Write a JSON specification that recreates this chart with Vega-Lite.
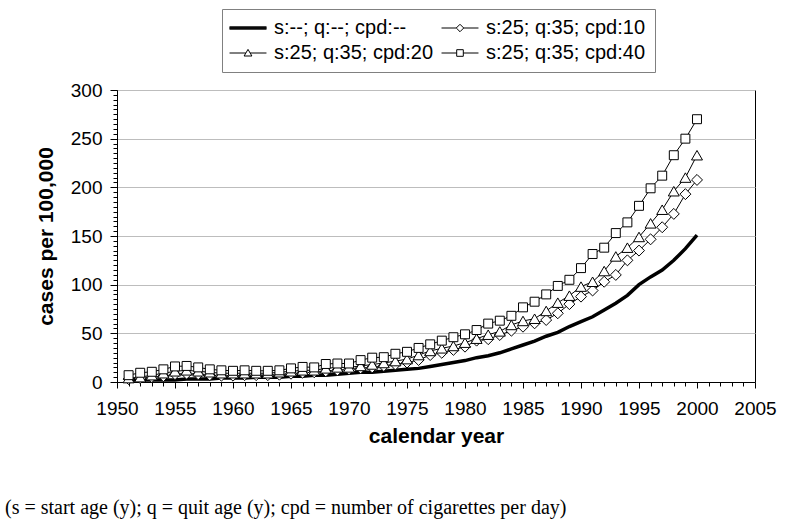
{
  "$schema": "https://vega.github.io/schema/vega-lite/v6.json",
  "width": 638,
  "height": 292,
  "autosize": {"type": "none"},
  "padding": {"left": 117, "top": 90, "right": 45, "bottom": 141},
  "background": "white",
  "config": {
    "font": "Liberation Sans",
    "view": {"stroke": "#000", "strokeWidth": 1},
    "axis": {"domainColor": "#000", "tickColor": "#000", "labelColor": "#000", "titleColor": "#000", "labelFontSize": 19, "titleFontSize": 21, "titleFontWeight": "bold", "labelOverlap": false, "labelFlush": false}
  },
  "title": {
    "text": "(s = start age (y); q = quit age (y); cpd = number of cigarettes per day)",
    "orient": "bottom", "anchor": "start", "frame": "group", "dx": -112, "offset": 52,
    "font": "Liberation Serif", "fontSize": 20, "fontWeight": "normal", "color": "#000"
  },
  "data": {"values": [
    {"year":1951,"series":"base","value":2},{"year":1951,"series":"c10","value":3},{"year":1951,"series":"c20","value":4},{"year":1951,"series":"c40","value":7},
    {"year":1952,"series":"base","value":2},{"year":1952,"series":"c10","value":4},{"year":1952,"series":"c20","value":5},{"year":1952,"series":"c40","value":9.5},
    {"year":1953,"series":"base","value":2},{"year":1953,"series":"c10","value":5},{"year":1953,"series":"c20","value":7},{"year":1953,"series":"c40","value":10.5},
    {"year":1954,"series":"base","value":2},{"year":1954,"series":"c10","value":6},{"year":1954,"series":"c20","value":9},{"year":1954,"series":"c40","value":13},
    {"year":1955,"series":"base","value":2},{"year":1955,"series":"c10","value":8},{"year":1955,"series":"c20","value":11},{"year":1955,"series":"c40","value":16},
    {"year":1956,"series":"base","value":3},{"year":1956,"series":"c10","value":8.5},{"year":1956,"series":"c20","value":12},{"year":1956,"series":"c40","value":16.5},
    {"year":1957,"series":"base","value":3},{"year":1957,"series":"c10","value":8},{"year":1957,"series":"c20","value":11},{"year":1957,"series":"c40","value":15},
    {"year":1958,"series":"base","value":3},{"year":1958,"series":"c10","value":7},{"year":1958,"series":"c20","value":10},{"year":1958,"series":"c40","value":13},
    {"year":1959,"series":"base","value":4},{"year":1959,"series":"c10","value":6.5},{"year":1959,"series":"c20","value":9},{"year":1959,"series":"c40","value":12},
    {"year":1960,"series":"base","value":4},{"year":1960,"series":"c10","value":6.5},{"year":1960,"series":"c20","value":9},{"year":1960,"series":"c40","value":11.5},
    {"year":1961,"series":"base","value":4},{"year":1961,"series":"c10","value":7},{"year":1961,"series":"c20","value":9},{"year":1961,"series":"c40","value":12},
    {"year":1962,"series":"base","value":5},{"year":1962,"series":"c10","value":7},{"year":1962,"series":"c20","value":9},{"year":1962,"series":"c40","value":11.5},
    {"year":1963,"series":"base","value":5},{"year":1963,"series":"c10","value":7},{"year":1963,"series":"c20","value":9},{"year":1963,"series":"c40","value":11.5},
    {"year":1964,"series":"base","value":5},{"year":1964,"series":"c10","value":7.5},{"year":1964,"series":"c20","value":10},{"year":1964,"series":"c40","value":12},
    {"year":1965,"series":"base","value":6},{"year":1965,"series":"c10","value":8.5},{"year":1965,"series":"c20","value":11},{"year":1965,"series":"c40","value":14},
    {"year":1966,"series":"base","value":6},{"year":1966,"series":"c10","value":9.5},{"year":1966,"series":"c20","value":12},{"year":1966,"series":"c40","value":15.5},
    {"year":1967,"series":"base","value":7},{"year":1967,"series":"c10","value":10},{"year":1967,"series":"c20","value":12},{"year":1967,"series":"c40","value":15},
    {"year":1968,"series":"base","value":7},{"year":1968,"series":"c10","value":11},{"year":1968,"series":"c20","value":14},{"year":1968,"series":"c40","value":18.5},
    {"year":1969,"series":"base","value":8},{"year":1969,"series":"c10","value":12},{"year":1969,"series":"c20","value":15},{"year":1969,"series":"c40","value":19},
    {"year":1970,"series":"base","value":9},{"year":1970,"series":"c10","value":13},{"year":1970,"series":"c20","value":15},{"year":1970,"series":"c40","value":19},
    {"year":1971,"series":"base","value":10},{"year":1971,"series":"c10","value":14},{"year":1971,"series":"c20","value":16.5},{"year":1971,"series":"c40","value":22.5},
    {"year":1972,"series":"base","value":10},{"year":1972,"series":"c10","value":15},{"year":1972,"series":"c20","value":18},{"year":1972,"series":"c40","value":25},
    {"year":1973,"series":"base","value":11},{"year":1973,"series":"c10","value":16.5},{"year":1973,"series":"c20","value":19.5},{"year":1973,"series":"c40","value":25.5},
    {"year":1974,"series":"base","value":12},{"year":1974,"series":"c10","value":18},{"year":1974,"series":"c20","value":21.5},{"year":1974,"series":"c40","value":29},
    {"year":1975,"series":"base","value":13},{"year":1975,"series":"c10","value":20},{"year":1975,"series":"c20","value":23.5},{"year":1975,"series":"c40","value":31},
    {"year":1976,"series":"base","value":14},{"year":1976,"series":"c10","value":22.6},{"year":1976,"series":"c20","value":27.7},{"year":1976,"series":"c40","value":35},
    {"year":1977,"series":"base","value":16},{"year":1977,"series":"c10","value":27.7},{"year":1977,"series":"c20","value":31.9},{"year":1977,"series":"c40","value":38.7},
    {"year":1978,"series":"base","value":18},{"year":1978,"series":"c10","value":30},{"year":1978,"series":"c20","value":34.6},{"year":1978,"series":"c40","value":42.5},
    {"year":1979,"series":"base","value":20},{"year":1979,"series":"c10","value":33},{"year":1979,"series":"c20","value":37},{"year":1979,"series":"c40","value":46},
    {"year":1980,"series":"base","value":22},{"year":1980,"series":"c10","value":36.3},{"year":1980,"series":"c20","value":40.4},{"year":1980,"series":"c40","value":49},
    {"year":1981,"series":"base","value":25},{"year":1981,"series":"c10","value":42.5},{"year":1981,"series":"c20","value":44.5},{"year":1981,"series":"c40","value":53.4},
    {"year":1982,"series":"base","value":27},{"year":1982,"series":"c10","value":44},{"year":1982,"series":"c20","value":48.6},{"year":1982,"series":"c40","value":60},
    {"year":1983,"series":"base","value":30},{"year":1983,"series":"c10","value":48.3},{"year":1983,"series":"c20","value":52},{"year":1983,"series":"c40","value":63},
    {"year":1984,"series":"base","value":34},{"year":1984,"series":"c10","value":52.7},{"year":1984,"series":"c20","value":58.6},{"year":1984,"series":"c40","value":68},
    {"year":1985,"series":"base","value":38},{"year":1985,"series":"c10","value":56.8},{"year":1985,"series":"c20","value":62.7},{"year":1985,"series":"c40","value":76.7},
    {"year":1986,"series":"base","value":42},{"year":1986,"series":"c10","value":60.3},{"year":1986,"series":"c20","value":65},{"year":1986,"series":"c40","value":82.5},
    {"year":1987,"series":"base","value":47},{"year":1987,"series":"c10","value":63.7},{"year":1987,"series":"c20","value":73},{"year":1987,"series":"c40","value":90},
    {"year":1988,"series":"base","value":51},{"year":1988,"series":"c10","value":70.6},{"year":1988,"series":"c20","value":81.5},{"year":1988,"series":"c40","value":98.7},
    {"year":1989,"series":"base","value":57},{"year":1989,"series":"c10","value":80},{"year":1989,"series":"c20","value":88.7},{"year":1989,"series":"c40","value":105},
    {"year":1990,"series":"base","value":62},{"year":1990,"series":"c10","value":87.7},{"year":1990,"series":"c20","value":98},{"year":1990,"series":"c40","value":117},
    {"year":1991,"series":"base","value":67},{"year":1991,"series":"c10","value":94},{"year":1991,"series":"c20","value":103},{"year":1991,"series":"c40","value":131.5},
    {"year":1992,"series":"base","value":74},{"year":1992,"series":"c10","value":103},{"year":1992,"series":"c20","value":114},{"year":1992,"series":"c40","value":138},
    {"year":1993,"series":"base","value":81},{"year":1993,"series":"c10","value":110},{"year":1993,"series":"c20","value":129},{"year":1993,"series":"c40","value":153},
    {"year":1994,"series":"base","value":89},{"year":1994,"series":"c10","value":125},{"year":1994,"series":"c20","value":138},{"year":1994,"series":"c40","value":164},
    {"year":1995,"series":"base","value":100},{"year":1995,"series":"c10","value":135},{"year":1995,"series":"c20","value":149},{"year":1995,"series":"c40","value":181},
    {"year":1996,"series":"base","value":108},{"year":1996,"series":"c10","value":146.6},{"year":1996,"series":"c20","value":163},{"year":1996,"series":"c40","value":199},
    {"year":1997,"series":"base","value":115},{"year":1997,"series":"c10","value":159},{"year":1997,"series":"c20","value":177},{"year":1997,"series":"c40","value":212},
    {"year":1998,"series":"base","value":125},{"year":1998,"series":"c10","value":172.7},{"year":1998,"series":"c20","value":196},{"year":1998,"series":"c40","value":233},
    {"year":1999,"series":"base","value":137},{"year":1999,"series":"c10","value":193},{"year":1999,"series":"c20","value":210},{"year":1999,"series":"c40","value":250},
    {"year":2000,"series":"base","value":151},{"year":2000,"series":"c10","value":207.6},{"year":2000,"series":"c20","value":233},{"year":2000,"series":"c40","value":270}
  ]},
  "encoding": {
    "x": {
      "field": "year", "type": "quantitative",
      "scale": {"domain": [1950, 2005], "nice": false, "zero": false},
      "axis": {
        "title": "calendar year",
        "values": [1950,1951,1952,1953,1954,1955,1956,1957,1958,1959,1960,1961,1962,1963,1964,1965,1966,1967,1968,1969,1970,1971,1972,1973,1974,1975,1976,1977,1978,1979,1980,1981,1982,1983,1984,1985,1986,1987,1988,1989,1990,1991,1992,1993,1994,1995,1996,1997,1998,1999,2000,2001,2002,2003,2004,2005],
        "format": "d",
        "labelExpr": "datum.value % 5 === 0 ? datum.label : ''",
        "grid": false,
        "tickSize": {"condition": {"test": "datum.value % 5 === 0", "value": 6}, "value": 4},
        "labelPadding": 11,
        "titlePadding": 7
      }
    },
    "y": {
      "field": "value", "type": "quantitative",
      "scale": {"domain": [0, 300], "nice": false},
      "axis": {
        "title": "cases per 100,000",
        "values": [0,5,10,15,20,25,30,35,40,45,50,55,60,65,70,75,80,85,90,95,100,105,110,115,120,125,130,135,140,145,150,155,160,165,170,175,180,185,190,195,200,205,210,215,220,225,230,235,240,245,250,255,260,265,270,275,280,285,290,295,300],
        "labelExpr": "datum.value % 50 === 0 ? datum.label : ''",
        "grid": true,
        "gridColor": "#bdbdbd",
        "gridOpacity": {"condition": {"test": "datum.value % 50 === 0", "value": 1}, "value": 0},
        "tickSize": {"condition": {"test": "datum.value % 50 === 0", "value": 7}, "value": 4},
        "labelPadding": 8,
        "titlePadding": 14
      }
    }
  },
  "layer": [
    {
      "transform": [{"filter": "datum.series === 'base'"}],
      "mark": {"type": "line", "color": "#000", "strokeWidth": 3.5}
    },
    {
      "transform": [{"filter": "datum.series !== 'base'"}],
      "mark": {"type": "line", "color": "#000", "strokeWidth": 1},
      "encoding": {"detail": {"field": "series", "type": "nominal"}}
    },
    {
      "transform": [{"filter": "datum.series !== 'base'"}],
      "mark": {"type": "point", "filled": true, "fill": "white", "stroke": "#000", "strokeWidth": 1, "opacity": 1},
      "encoding": {
        "size": {"condition": {"test": "datum.series === 'c40'", "value": 80}, "value": 120},
        "shape": {"condition": [{"test": "datum.series === 'c10'", "value": "diamond"}, {"test": "datum.series === 'c20'", "value": "triangle-up"}], "value": "square"}
      }
    },
    {
      "transform": [{"filter": "datum.year === 2000"}],
      "mark": {"type": "point", "filled": true, "fill": "white", "stroke": "#000", "strokeWidth": 1, "opacity": 0},
      "encoding": {
        "shape": {
          "field": "series", "type": "nominal",
          "scale": {
            "domain": ["base", "c20", "c10", "c40"],
            "range": [
              "M-3.08,-0.2H3.08M-3.08,-0.1H3.08M-3.08,0H3.08M-3.08,0.1H3.08M-3.08,0.2H3.08",
              "M-3.08,0H-0.36M0.36,0H3.08M0,-0.6L0.65,0.5L-0.65,0.5Z",
              "M-3.08,0H-0.62M0.62,0H3.08M0,-0.62L0.62,0L0,0.62L-0.62,0Z",
              "M-3.08,0H-0.55M0.55,0H3.08M-0.55,-0.55H0.55V0.55H-0.55Z"
            ]
          },
          "legend": {
            "orient": "none", "legendX": 105, "legendY": -81, "columns": 2, "title": null,
            "strokeColor": "#808080", "fillColor": "white", "padding": 9,
            "symbolSize": 144, "symbolOffset": 7, "labelOffset": 16,
            "symbolOpacity": 1, "symbolStrokeWidth": 1,
            "columnPadding": 5, "rowPadding": 5,
            "labelFontSize": 20, "labelColor": "#000", "labelFont": "Liberation Sans", "labelLimit": 400,
            "labelExpr": "datum.value === 'base' ? 's:--; q:--; cpd:--' : datum.value === 'c10' ? 's:25; q:35; cpd:10' : datum.value === 'c20' ? 's:25; q:35; cpd:20' : 's:25; q:35; cpd:40'"
          }
        }
      }
    }
  ]
}
